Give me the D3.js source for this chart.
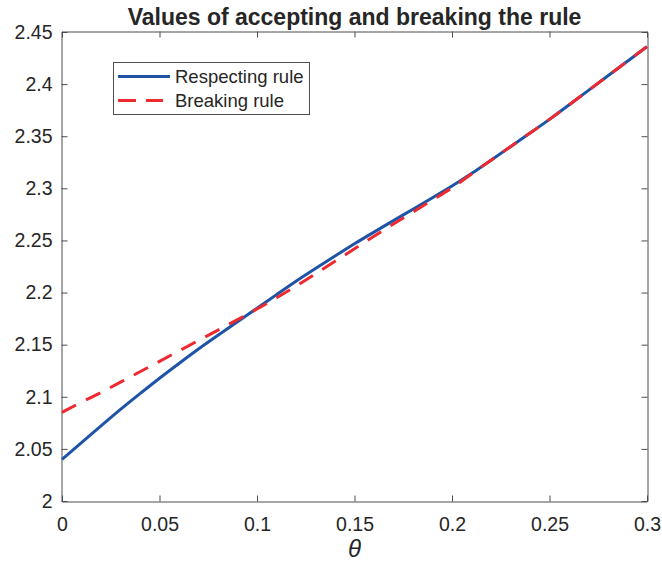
<!DOCTYPE html>
<html>
<head>
<meta charset="utf-8">
<script src="https://cdn.jsdelivr.net/npm/d3@7"></script>
<style>
  html, body { margin: 0; padding: 0; background: #fff; }
  svg { display: block; }
  text { font-family: "Liberation Sans", Arial, Helvetica, sans-serif; fill: #262626; }
</style>
</head>
<body>
<svg id="chart" width="662" height="563"></svg>
<script>
// ---- data ----
const theta = [0, 0.01, 0.02, 0.03, 0.04, 0.05, 0.06, 0.07, 0.08, 0.09, 0.10,
               0.11, 0.12, 0.13, 0.14, 0.15, 0.16, 0.17, 0.18, 0.19, 0.20,
               0.21, 0.22, 0.23, 0.24, 0.25, 0.26, 0.27, 0.28, 0.29, 0.30];
const respecting = [2.040, 2.056, 2.072, 2.088, 2.103, 2.118, 2.132, 2.146, 2.159, 2.172, 2.185,
                    2.198, 2.211, 2.223, 2.235, 2.247, 2.258, 2.269, 2.280, 2.291, 2.302,
                    2.314, 2.327, 2.340, 2.353, 2.366, 2.380, 2.394, 2.408, 2.422, 2.436];
const breaking = [2.085, 2.095, 2.104, 2.114, 2.124, 2.134, 2.144, 2.154, 2.164, 2.174, 2.184,
                  2.195, 2.206, 2.218, 2.230, 2.242, 2.254, 2.266, 2.277, 2.289, 2.300,
                  2.314, 2.327, 2.340, 2.353, 2.366, 2.380, 2.394, 2.408, 2.422, 2.436];
const xTicks = [0, 0.05, 0.1, 0.15, 0.2, 0.25, 0.3];
const yTicks = [2, 2.05, 2.1, 2.15, 2.2, 2.25, 2.3, 2.35, 2.4, 2.45];
const seriesNames = ["Respecting rule", "Breaking rule"];
const titleText = "Values of accepting and breaking the rule";
const xLabel = "\u03B8";

// ---- layout ----
const L = 62, R = 647, T = 32, B = 501;
const svg = d3.select("#chart");
const x = d3.scaleLinear().domain([0, 0.3]).range([L, R]);
const y = d3.scaleLinear().domain([2, 2.45]).range([B, T]);
const fmt = d => String(d);
const axisColor = "#4d4d4d";

function styleAxis(g) {
  g.selectAll("path.domain").attr("stroke", axisColor).attr("stroke-width", 1);
  g.selectAll(".tick line").attr("stroke", axisColor).attr("stroke-width", 1);
  g.selectAll(".tick text").attr("font-size", 19.5).attr("fill", "#262626")
    .attr("font-family", "'Liberation Sans', Arial, Helvetica, sans-serif");
}

svg.append("g").attr("transform", `translate(0,${B + 0.5})`)
  .call(d3.axisBottom(x).tickValues(xTicks).tickFormat(fmt).tickSizeInner(-6).tickSizeOuter(0).tickPadding(16))
  .call(styleAxis);
svg.append("g").attr("transform", `translate(0,${T - 0.5})`)
  .call(d3.axisTop(x).tickValues(xTicks).tickFormat("").tickSizeInner(-6).tickSizeOuter(0))
  .call(styleAxis);
svg.append("g").attr("transform", `translate(${L - 0.5},0)`)
  .call(d3.axisLeft(y).tickValues(yTicks).tickFormat(fmt).tickSizeInner(-6).tickSizeOuter(0).tickPadding(9))
  .call(styleAxis);
svg.append("g").attr("transform", `translate(${R + 0.5},0)`)
  .call(d3.axisRight(y).tickValues(yTicks).tickFormat("").tickSizeInner(-6).tickSizeOuter(0))
  .call(styleAxis);

// ---- lines ----
const line = d3.line().x((d, i) => x(theta[i])).y(d => y(d)).curve(d3.curveBasis);
svg.append("path").attr("d", line(respecting)).attr("fill", "none")
  .attr("stroke", "#1f53a6").attr("stroke-width", 3);
svg.append("path").attr("d", line(breaking)).attr("fill", "none")
  .attr("stroke", "#ee2a30").attr("stroke-width", 3).attr("stroke-dasharray", "16,11");

// ---- title ----
svg.append("text").attr("x", (L + R) / 2).attr("y", 25).attr("text-anchor", "middle")
  .attr("font-size", 23).attr("font-weight", "bold").attr("fill", "#1a1a1a").text(titleText);

// ---- x label ----
svg.append("text").attr("x", (L + R) / 2).attr("y", 557).attr("text-anchor", "middle")
  .attr("font-family", "'Liberation Serif', 'Times New Roman', serif").attr("font-style", "italic")
  .attr("font-size", 24).attr("fill", "#262626").text(xLabel);

// ---- legend ----
const lg = svg.append("g");
lg.append("rect").attr("x", 113.5).attr("y", 62.5).attr("width", 196).attr("height", 52)
  .attr("fill", "#fff").attr("stroke", axisColor).attr("stroke-width", 1);
const legendItems = [
  { name: seriesNames[0], color: "#1f53a6", dash: null, cy: 76.5 },
  { name: seriesNames[1], color: "#ee2a30", dash: "18,10", cy: 100.5 }
];
legendItems.forEach(it => {
  const l = lg.append("line").attr("x1", 118).attr("x2", 163 + (it.dash ? 0 : 7))
    .attr("y1", it.cy).attr("y2", it.cy).attr("stroke", it.color).attr("stroke-width", 3);
  if (it.dash) l.attr("stroke-dasharray", it.dash);
  lg.append("text").attr("x", 175).attr("y", it.cy).attr("dy", "0.35em")
    .attr("font-size", 18.5).text(it.name);
});
</script>
</body>
</html>
